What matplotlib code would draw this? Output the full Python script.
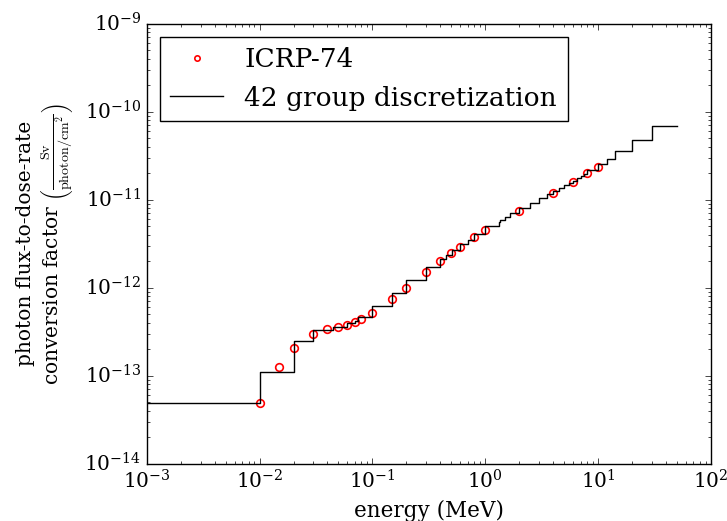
import matplotlib
matplotlib.use("Agg")
import matplotlib.pyplot as plt

# ICRP-74 photon fluence-to-effective-dose (AP), pSv cm^2
icrp_energy = [0.01, 0.015, 0.02, 0.03, 0.04, 0.05, 0.06, 0.07, 0.08, 0.1,
               0.15, 0.2, 0.3, 0.4, 0.5, 0.6, 0.8, 1.0, 2.0, 4.0, 6.0, 8.0, 10.0]
icrp_value = [0.0485, 0.1254, 0.2050, 0.2999, 0.3381, 0.3572, 0.3780, 0.4066,
              0.4399, 0.5172, 0.7523, 1.0041, 1.5083, 1.9958, 2.4657, 2.9082,
              3.7269, 4.4834, 7.4896, 12.0153, 15.9873, 19.9191, 23.7600]

# 42 group boundaries (MeV)
group_edges = [1e-3, 0.01, 0.02, 0.03, 0.045, 0.06, 0.07, 0.075, 0.1, 0.15,
               0.2, 0.3, 0.4, 0.45, 0.51, 0.512, 0.6, 0.7, 0.8, 1.0, 1.33,
               1.34, 1.5, 1.66, 2.0, 2.5, 3.0, 3.5, 4.0, 4.5, 5.0, 5.5, 6.0,
               6.5, 7.0, 7.5, 8.0, 10.0, 12.0, 14.0, 20.0, 30.0, 50.0]
# group values, pSv cm^2
group_value = [0.0485, 0.1092, 0.2480, 0.3263, 0.3615, 0.3921, 0.4150, 0.4662,
               0.6238, 0.8691, 1.2306, 1.7350, 2.1103, 2.3678, 2.5150, 2.7069,
               3.1085, 3.5185, 4.0877, 4.9820, 5.5540, 5.8068, 6.2842, 6.9945,
               8.0837, 9.2817, 10.408, 11.481, 12.527, 13.549, 14.541, 15.504,
               16.484, 17.484, 18.468, 19.435, 21.755, 25.535, 29.165, 35.683,
               48.247, 69.268]

plt.style.use('classic')
plt.rcParams['font.family'] = 'serif'
plt.rcParams['font.serif'] = ['DejaVu Serif']
plt.rcParams['mathtext.fontset'] = 'cm'
plt.rcParams['figure.facecolor'] = 'white'

fig = plt.figure(figsize=(7.27, 5.21), dpi=100)
ax = fig.add_axes([0.2018, 0.110, 0.776, 0.8445])

ax.plot(icrp_energy, [v * 1e-12 for v in icrp_value], 'o', mfc='none',
        mec='r', mew=1.2, ms=5.5, label='ICRP-74')
ax.step(group_edges, [v * 1e-12 for v in group_value] + [group_value[-1] * 1e-12],
        where='post', color='k', lw=1.0, label='42 group discretization')

ax.set_xscale('log')
ax.set_yscale('log')
ax.set_xlim(1e-3, 1e2)
ax.set_ylim(1e-14, 1e-9)
ax.tick_params(labelsize=14.5)
ax.tick_params(axis='x', pad=4)
ax.set_xlabel('energy (MeV)', fontsize=15.5)
ax.set_ylabel('photon flux-to-dose-rate\nconversion factor '
              r'$\left(\frac{\mathrm{Sv}}{\mathrm{photon/cm^2}}\right)$',
              fontsize=14.5)
ax.xaxis.set_label_coords(0.5, -0.083)
ax.yaxis.set_label_coords(-0.127, 0.5)
ax.legend(loc='upper left', numpoints=1, fontsize=19, markerscale=0.7)

fig.savefig('out.png', dpi=100, facecolor='white')
